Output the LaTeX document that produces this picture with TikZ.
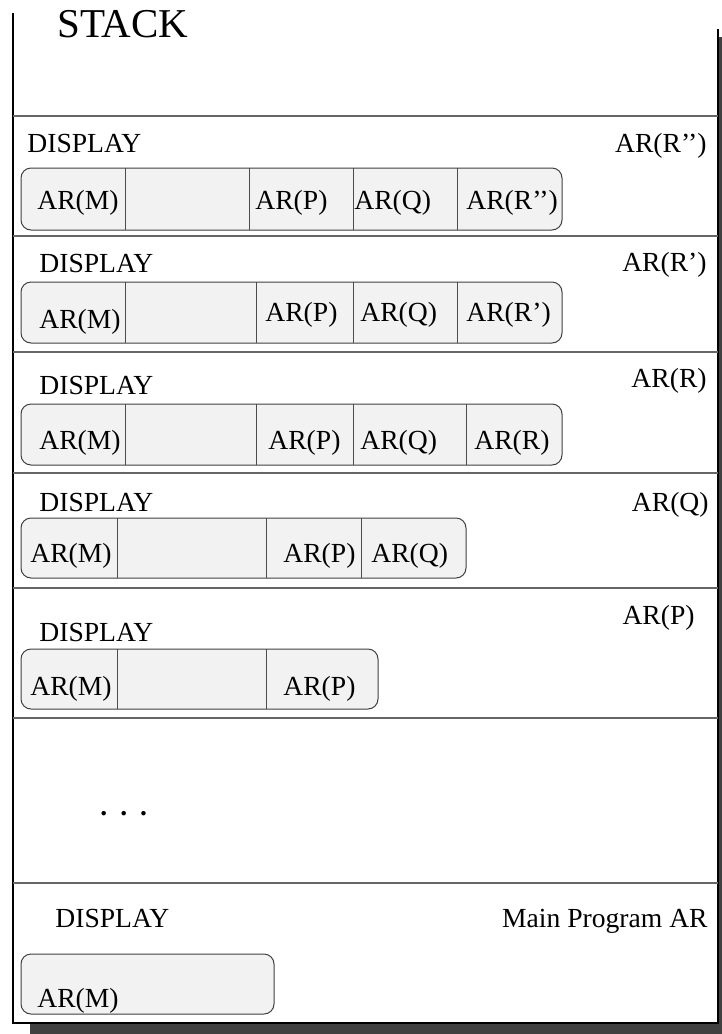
\documentclass[tikz,border=0pt]{standalone}
\usepackage{fontspec}
\setmainfont{Liberation Serif}
\definecolor{cellfill}{RGB}{242,242,242}
\definecolor{shadowgray}{RGB}{64,64,64}
\tikzset{
  lbl/.style={inner sep=0pt, anchor=base west, font=\fontsize{13.8}{16}\selectfont},
  rlbl/.style={lbl, anchor=base east},
  dispbox/.style={draw=black!75, fill=cellfill, line width=0.5pt, rounded corners=5pt},
  cellsep/.style={draw=black!70, line width=0.5pt},
  rowsep/.style={draw=gray!80!black, line width=0.9pt}
}
\begin{document}
\begin{tikzpicture}[x=0.5pt, y=-0.5pt]
        \useasboundingbox (0,0) rectangle (722,1034);
        % Shadow and frame
        \fill [shadowgray] (30,37) rectangle (722,1034);
        \fill [white] (13,13) rectangle (718,1023);
        \draw [line width=0.6pt] (13,13) -- (13,1023) -- (718,1023) -- (718,29);
        \foreach \y in {116,236,352,473,588,718,883}
            \draw [rowsep] (13,\y) -- (718,\y);
        \node [lbl, font=\fontsize{20.5}{24}\selectfont] (stack) at (57,37) {STACK};

        % Frame of R''
        \node [lbl] (disp1) at (27,152) {DISPLAY};
        \node [rlbl] (ar1) at (707,152) {AR(R'{}')};
        \draw [dispbox] (21,168) rectangle (562,230);
        \foreach \x in {125,249,353,457}
            \draw [cellsep] (\x,168) -- (\x,230);
        \node [lbl] (m1) at (37,209) {AR(M)};
        \node [lbl] (p1) at (255,209) {AR(P)};
        \node [lbl] (q1) at (354,209) {AR(Q)};
        \node [lbl] (r1) at (466,209) {AR(R'{}')};

        % Frame of R'
        \node [lbl] (disp2) at (39,272) {DISPLAY};
        \node [rlbl] (ar2) at (707,271) {AR(R')};
        \draw [dispbox] (21,282) rectangle (562,343);
        \foreach \x in {125,256,353,457}
            \draw [cellsep] (\x,282) -- (\x,343);
        \node [lbl] (m2) at (39,328) {AR(M)};
        \node [lbl] (p2) at (265,321) {AR(P)};
        \node [lbl] (q2) at (360,321) {AR(Q)};
        \node [lbl] (r2) at (466,321) {AR(R')};

        % Frame of R
        \node [lbl] (disp3) at (39,394) {DISPLAY};
        \node [rlbl] (ar3) at (707,387) {AR(R)};
        \draw [dispbox] (21,404) rectangle (562,465);
        \foreach \x in {125,256,353,466}
            \draw [cellsep] (\x,404) -- (\x,465);
        \node [lbl] (m3) at (39,449) {AR(M)};
        \node [lbl] (p3) at (268,449) {AR(P)};
        \node [lbl] (q3) at (360,449) {AR(Q)};
        \node [lbl] (r3) at (474,449) {AR(R)};

        % Frame of Q
        \node [lbl] (disp4) at (39,511) {DISPLAY};
        \node [rlbl] (ar4) at (709,511) {AR(Q)};
        \draw [dispbox] (21,518) rectangle (466,578);
        \foreach \x in {117,266,361}
            \draw [cellsep] (\x,518) -- (\x,578);
        \node [lbl] (m4) at (30,562) {AR(M)};
        \node [lbl] (p4) at (283,562) {AR(P)};
        \node [lbl] (q4) at (371,562) {AR(Q)};

        % Frame of P
        \node [lbl] (disp5) at (39,641) {DISPLAY};
        \node [rlbl] (ar5) at (695,624) {AR(P)};
        \draw [dispbox] (21,649) rectangle (378,709);
        \foreach \x in {117,266}
            \draw [cellsep] (\x,649) -- (\x,709);
        \node [lbl] (m5) at (30,695) {AR(M)};
        \node [lbl] (p5) at (283,695) {AR(P)};

        % Gap
        \node [lbl, font=\fontsize{13.8}{16}\selectfont\bfseries] (dots) at (100,815) {.\hspace{6.5pt}.\hspace{6.5pt}.};

        % Main program
        \node [lbl] (disp6) at (55,927) {DISPLAY};
        \node [rlbl] (ar6) at (708,927) {Main Program AR};
        \draw [dispbox] (21,954) rectangle (274,1014);
        \node [lbl] (m6) at (37,1007) {AR(M)};
\end{tikzpicture}
\end{document}
